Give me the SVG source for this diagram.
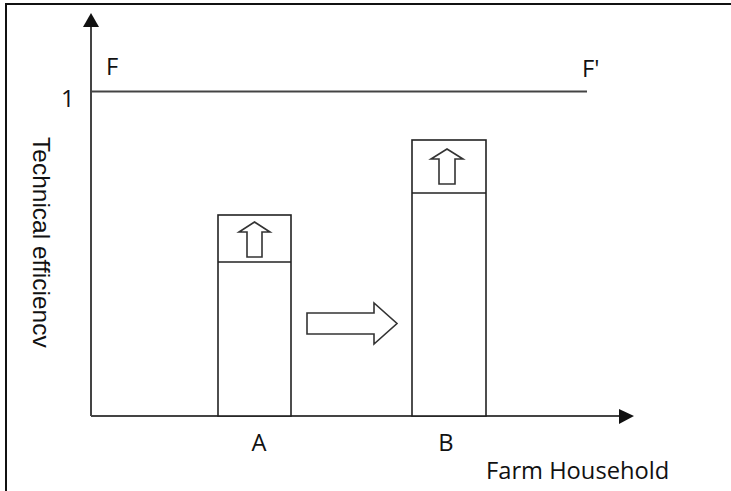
<svg xmlns="http://www.w3.org/2000/svg" width="731" height="491" viewBox="0 0 731 491">
  <style>
    .frame { fill: none; stroke: #111; stroke-width: 2; }
    .axis { fill: none; stroke: #444; stroke-width: 2; }
    .bar { fill: #fff; stroke: #222; stroke-width: 1.6; }
    .shift { fill: #fff; stroke: #333; stroke-width: 1.6; stroke-linejoin: miter; }
    .lbl { font-family: "Open Sans", "Liberation Sans", sans-serif; font-size: 23.7px; fill: #111; }
    .ylbl { font-family: "Liberation Sans", Arial, sans-serif; font-size: 24.5px; fill: #111; }
  </style>

  <rect width="731" height="491" fill="#fff"/>
  <!-- outer frame (top and left edges) -->
  <path class="frame" d="M6,491 V4 H731"/>

  <!-- axes and frontier line -->
  <g id="connectors">
    <line class="axis" x1="91" y1="416" x2="91" y2="26"/>
    <path d="M91,13 L99,27 L83,27 Z" fill="#111"/>
    <line class="axis" x1="91" y1="416" x2="620" y2="416"/>
    <path d="M634,416 L619,409 L619,424 Z" fill="#111"/>
    <line class="axis" x1="91" y1="91.5" x2="587" y2="91.5"/>
  </g>

  <g id="labels">
    <text class="lbl" x="106" y="75">F</text>
    <text class="lbl" x="582" y="77">F'</text>
    <text class="lbl" x="61" y="107">1</text>
    <text class="lbl" x="259" y="451" text-anchor="middle">A</text>
    <text class="lbl" x="446" y="451" text-anchor="middle">B</text>
    <text class="lbl" x="486" y="479">Farm Household</text>
    <text class="ylbl" transform="translate(33,137) rotate(90)">Technical efficiencv</text>
  </g>

  <!-- household A -->
  <g id="bar-a">
    <rect class="bar" x="218" y="215" width="73" height="201"/>
    <line class="bar" x1="218" y1="262" x2="291" y2="262"/>
    <path class="shift" d="M254.5,222 L270,232 L262,232 L262,257 L247,257 L247,232 L239,232 Z"/>
  </g>

  <!-- household B -->
  <g id="bar-b">
    <rect class="bar" x="412" y="140" width="74" height="276"/>
    <line class="bar" x1="412" y1="193" x2="486" y2="193"/>
    <path class="shift" d="M447,149 L463,159 L455,159 L455,184 L439,184 L439,159 L431,159 Z"/>
  </g>

  <!-- movement from A to B -->
  <g id="move">
    <path class="shift" d="M307,313 L374,313 L374,303 L397,323.5 L374,344 L374,334 L307,334 Z"/>
  </g>
</svg>
